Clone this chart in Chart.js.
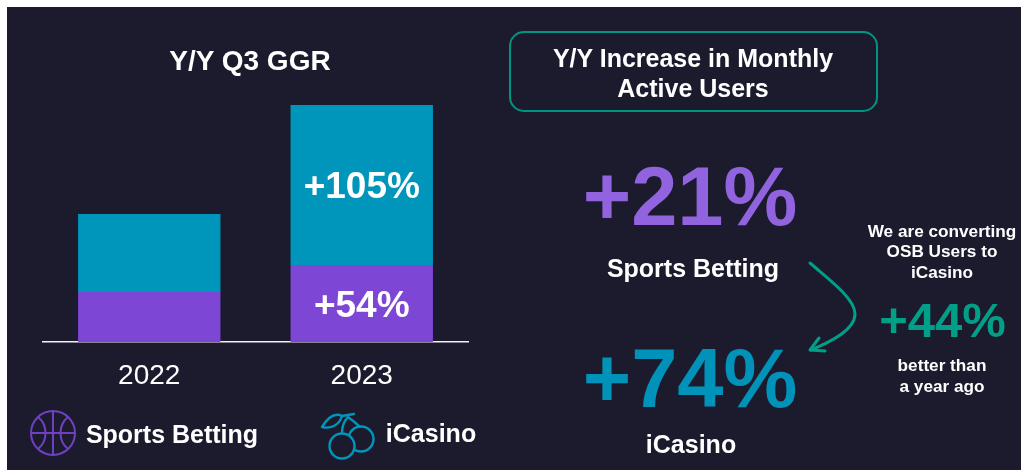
<!DOCTYPE html>
<html><head><meta charset="utf-8">
<script src="https://cdn.jsdelivr.net/npm/chart.js@4"></script>
<style>
html,body{margin:0;padding:0;background:#fff;width:1021px;height:470px;overflow:hidden}
#panel{position:absolute;left:7px;top:7px;width:1014px;height:463px;background:#1c1b2e}
canvas{position:absolute;left:0;top:0}
svg{position:absolute;left:0;top:0}
.t{position:absolute;transform:translate(-50%,-50%);white-space:nowrap;font-family:"Liberation Sans",Arial,sans-serif;font-weight:700;color:#fff;line-height:1;text-align:center}
#box{position:absolute;left:509px;top:31px;width:365px;height:77px;border:2px solid #00957f;border-radius:15px;box-sizing:content-box}
</style></head><body>
<div id="panel"></div>
<canvas id="c" width="1021" height="470"></canvas>
<svg width="1021" height="470" fill="none">
  <g stroke="#7040c4" stroke-width="2">
    <circle cx="53" cy="433" r="22"/>
    <path d="M31 433H75M53 411V455"/>
    <path d="M38 417C48 425 48 441 38 449M68 417C58 425 58 441 68 449"/>
  </g>
  <g stroke="#0095ba" stroke-width="2.4" stroke-linecap="round" stroke-linejoin="round">
    <circle cx="361" cy="439" r="12.5"/>
    <circle cx="342" cy="446" r="12.5" fill="#1c1b2e"/>
    <path d="M342 433C342 427 344 421 348 417C352 420 357 424 360 427"/>
    <path d="M342 416C334 412 327 419 322 427C330 429 339 426 342 416Z"/>
    <path d="M342 416L354 414"/>
  </g>
  <g stroke="#00a088" stroke-width="3" stroke-linecap="round" stroke-linejoin="round">
    <path d="M810 263C826 277 855 298 855 314C855 330 830 342 811 350"/>
    <path d="M819 338L810 350L825 351"/>
  </g>
</svg>
<div id="box"></div>
<div class="t" style="left:250px;top:61px;font-size:28px">Y/Y Q3 GGR</div>
<div class="t" style="left:693px;top:58px;font-size:25px">Y/Y Increase in Monthly</div>
<div class="t" style="left:693px;top:88px;font-size:25px">Active Users</div>
<div class="t" style="left:690px;top:196px;font-size:83px;color:#9163de">+21%</div>
<div class="t" style="left:693px;top:268px;font-size:25px">Sports Betting</div>
<div class="t" style="left:690px;top:378px;font-size:83px;color:#0092b8">+74%</div>
<div class="t" style="left:691px;top:444px;font-size:25px">iCasino</div>
<div class="t" style="left:172px;top:434px;font-size:25px">Sports Betting</div>
<div class="t" style="left:431px;top:433px;font-size:25px">iCasino</div>
<div class="t" style="left:942px;top:232px;font-size:17.2px">We are converting</div>
<div class="t" style="left:942px;top:252px;font-size:17.2px">OSB Users to</div>
<div class="t" style="left:942px;top:273px;font-size:17.2px">iCasino</div>
<div class="t" style="left:942.5px;top:320px;font-size:49px;color:#00a088">+44%</div>
<div class="t" style="left:942px;top:366px;font-size:17.2px">better than</div>
<div class="t" style="left:942px;top:387px;font-size:17.2px">a year ago</div>
<script>
const categories = ["2022", "2023"];
const sportsBetting = [50, 77];
const iCasino = [78, 160];
const sportsLabels = ["", "+54%"];
const iCasinoLabels = ["", "+105%"];
const barLabels = {
  id: "barLabels",
  afterDatasetsDraw(chart) {
    const ctx = chart.ctx;
    [sportsLabels, iCasinoLabels].forEach((labels, d) => {
      chart.getDatasetMeta(d).data.forEach((bar, i) => {
        if (!labels[i]) return;
        const p = bar.getProps(["x", "y", "base"], true);
        ctx.save();
        ctx.font = "700 37px 'Liberation Sans', Arial, sans-serif";
        ctx.fillStyle = "#fff";
        ctx.textAlign = "center";
        ctx.textBaseline = "middle";
        ctx.fillText(labels[i], p.x, (p.y + p.base) / 2 + 3);
        ctx.restore();
      });
    });
  }
};
new Chart(document.getElementById("c"), {
  type: "bar",
  data: {
    labels: categories,
    datasets: [
      { label: "Sports Betting", data: sportsBetting, backgroundColor: "#7d46d5", stack: "s" },
      { label: "iCasino", data: iCasino, backgroundColor: "#0095ba", stack: "s" }
    ]
  },
  plugins: [barLabels],
  options: {
    responsive: false,
    animation: false,
    barPercentage: 0.67,
    categoryPercentage: 1,
    layout: { padding: { left: 43, right: 553, top: 105, bottom: 0 } },
    plugins: { legend: { display: false }, tooltip: { enabled: false } },
    scales: {
      x: {
        stacked: true,
        afterFit: s => { s.height = 128; },
        grid: { display: false, drawTicks: false },
        border: { color: "#f2f2f2", width: 1.5 },
        ticks: { color: "#fff", padding: 17, font: { family: "'Liberation Sans', Arial, sans-serif", size: 28 } }
      },
      y: { stacked: true, display: false, min: 0, max: 237 }
    }
  }
});
</script>
</body></html>
